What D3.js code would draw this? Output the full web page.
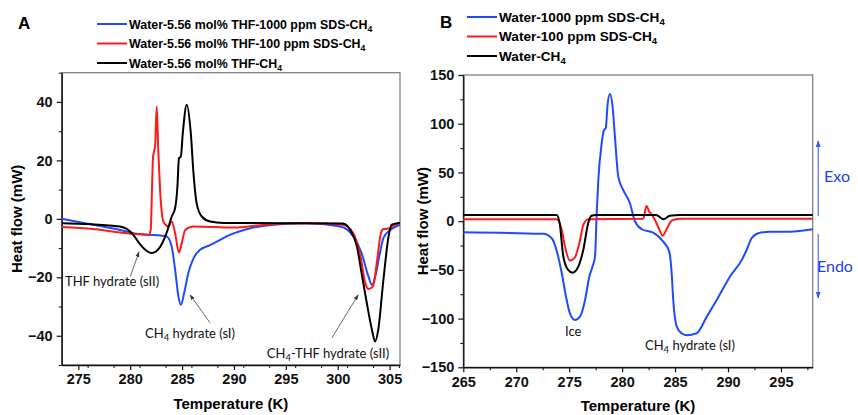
<!DOCTYPE html>
<html>
<head>
<meta charset="utf-8">
<script src="https://cdn.jsdelivr.net/npm/d3@7"></script>
<style>
  body { margin: 0; background: #fff; }
  .tick text { font-family: "Liberation Sans", Arial, sans-serif; font-weight: bold; font-size: 14.5px; fill: #111; }
  .note { font-family: Lato, "Open Sans", sans-serif; font-size: 13px; fill: #111; }
</style>
</head>
<body>
<svg id="chart" width="858" height="415"></svg>
<script>
// Panel A: Water-5.56 mol% THF systems  [T (K), heat flow (mW)]
const thfSds1000 = [[273.4,0],[276.4,-2],[279,-3.8],[280.6,-5.1],[282.9,-5.7],[283.5,-6],[284,-9.5],[284.33,-17.4],[284.65,-26.6],[284.88,-29.4],[285.2,-25.4],[285.6,-18.5],[286.1,-13.5],[286.74,-10.6],[287.7,-9],[288.35,-7.8],[289.6,-5.5],[291.6,-3.2],[293.8,-2],[297,-1.5],[300.24,-2.6],[301.5,-6],[302.3,-11.7],[302.96,-19.7],[303.3,-22.6],[303.6,-20],[304,-12.9],[304.4,-6.6],[305.06,-3.8],[306,-2]];
const thfSds100 = [[273.4,-2.8],[276.4,-3.5],[279.7,-4.9],[281.75,-5.5],[281.98,-3.8],[282.1,10],[282.2,21],[282.4,25],[282.56,38.4],[282.7,24],[282.88,10],[283.2,-0.9],[283.7,-2.6],[284,-0.9],[284.33,-4.9],[284.7,-11.5],[284.97,-8.3],[285.3,-3.8],[286.1,-2.6],[290,-3],[293,-2],[297,-1.5],[300.5,-2],[301.5,-4.9],[302.2,-12.9],[302.65,-22],[302.96,-24],[303.4,-23.1],[303.8,-14],[304.16,-4.9],[304.4,-3.5],[305.06,-3.2],[305.5,-2],[306,-1.5]];
const thfCH4 = [[273.4,-1.5],[276,-1.8],[279,-2.6],[279.7,-3.5],[280.3,-5.5],[281,-8.9],[281.6,-11],[282.1,-11.7],[282.6,-10.8],[282.9,-9.5],[283.5,-4.9],[284,0.8],[284.33,3.7],[284.55,11],[284.7,20.7],[284.88,21.3],[285.07,29.3],[285.45,39],[285.84,29.3],[286.1,15.6],[286.4,5.4],[286.9,0.8],[287.7,-0.9],[289,-1.4],[295,-1.5],[300.5,-1.6],[301.2,-3.8],[301.85,-9.5],[302.3,-18.6],[302.8,-28.8],[303.3,-38],[303.6,-42],[303.9,-38],[304.4,-20.9],[304.9,-6],[305.2,-2],[306,-1.3]];

// Panel B: Water systems
const waterSds1000 = [[265,-11.5],[272.55,-13],[273.35,-17.6],[273.8,-29.6],[274.3,-53.5],[274.7,-77.5],[275.07,-94.6],[275.55,-101.4],[276.02,-98],[276.5,-80.9],[276.9,-57],[277.2,-46.7],[277.44,-36.4],[277.6,8],[277.75,42],[278.07,80],[278.29,93.6],[278.45,95.4],[278.64,121],[278.85,130.6],[279.1,117.6],[279.32,86.8],[279.64,45.7],[280.1,32],[280.74,18.4],[281.2,0],[281.85,-8.3],[282.94,-11.8],[283.89,-21],[284.45,-31.3],[284.68,-53.5],[284.83,-81],[285.15,-108],[285.6,-115],[286.1,-117],[287.04,-115],[288,-98],[288.93,-81],[290.18,-57],[291.29,-40],[291.76,-29.6],[292.23,-17.6],[292.86,-12.4],[293.96,-10.8],[295.85,-10.8],[298,-8.3]];
const waterSds100 = [[265,2],[273.8,2],[274.3,-9],[274.6,-26],[275.07,-40.5],[275.5,-38],[275.96,-22.7],[276.33,-4],[276.8,2],[282,2.5],[282.3,15.6],[282.56,9.8],[282.94,4.6],[283.4,-5.6],[283.83,-15],[284.2,-8.3],[284.68,0.5],[285.46,2.5],[298,2.5]];
const waterCH4 = [[265,6.4],[273.8,6.4],[274.1,-2],[274.44,-36],[274.9,-50],[275.33,-52.9],[275.86,-46.7],[276.33,-29.6],[276.8,-2],[277.1,5.6],[277.5,6.4],[283.2,6.4],[283.9,2],[284.5,5.5],[285.5,6.4],[298,6.4]];

const legendA = ["Water-5.56 mol% THF-1000 ppm SDS-CH", "Water-5.56 mol% THF-100 ppm SDS-CH", "Water-5.56 mol% THF-CH"];
const legendB = ["Water-1000 ppm SDS-CH", "Water-100 ppm SDS-CH", "Water-CH"];
const ticksXA = [275, 280, 285, 290, 295, 300, 305];
const ticksYA = [-40, -20, 0, 20, 40];
const ticksXB = [265, 270, 275, 280, 285, 290, 295];
const ticksYB = [-150, -100, -50, 0, 50, 100, 150];

const colors = ["#1f4bff", "#ff1a1a", "#000000"];
const svg = d3.select("#chart");
const boldFont = '"Liberation Sans", Arial, sans-serif';

function panel(opt) {
    const x = d3.scaleLinear().domain(opt.xDomain).range([opt.left, opt.right]);
    const y = d3.scaleLinear().domain(opt.yDomain).range([opt.bottom, opt.top]);
    const g = svg.append("g");

    // frame (top/right grey)
    g.append("rect")
        .attr("x", opt.left).attr("y", opt.top)
        .attr("width", opt.right - opt.left).attr("height", opt.bottom - opt.top)
        .attr("fill", "none").attr("stroke", "#777").attr("stroke-width", 1.2);

    // minor ticks
    g.append("g").attr("transform", `translate(0,${opt.bottom})`)
        .call(d3.axisBottom(x).tickValues(d3.range(opt.xDomain[0], opt.xDomain[1], 2.5).filter(v => v % 5 !== 0 && v > opt.xDomain[0])).tickSize(3).tickFormat(""))
        .call(a => a.select(".domain").remove());
    g.append("g").attr("transform", `translate(${opt.left},0)`)
        .call(d3.axisLeft(y).tickValues(opt.yMinor).tickSize(3).tickFormat(""))
        .call(a => a.select(".domain").remove());

    const ax = g.append("g").attr("transform", `translate(0,${opt.bottom})`)
        .call(d3.axisBottom(x).tickValues(opt.xTicks).tickSize(5).tickPadding(4).tickSizeOuter(0));
    const ay = g.append("g").attr("transform", `translate(${opt.left},0)`)
        .call(d3.axisLeft(y).tickValues(opt.yTicks).tickSize(5).tickPadding(4).tickSizeOuter(0));
    [ax, ay].forEach(a => {
        a.select(".domain").attr("stroke", "#111").attr("stroke-width", 1.4);
        a.selectAll(".tick line").attr("stroke", "#111").attr("stroke-width", 1.2);
    });
    g.selectAll(".tick line").attr("stroke", "#111");

    const line = d3.line().x(d => x(d[0])).y(d => y(d[1])).curve(d3.curveMonotoneX);
    opt.series.forEach((s, i) => {
        g.append("path").datum(s)
            .attr("fill", "none")
            .attr("stroke", colors[i])
            .attr("stroke-width", 2)
            .attr("stroke-linejoin", "round")
            .attr("d", line);
    });

    // axis titles
    g.append("text")
        .attr("x", (opt.left + opt.right) / 2).attr("y", opt.bottom + 44)
        .attr("text-anchor", "middle")
        .style("font-family", boldFont).style("font-weight", "bold").style("font-size", "15px")
        .text("Temperature (K)");
    g.append("text")
        .attr("transform", `translate(${opt.yTitleX},${(opt.top + opt.bottom) / 2}) rotate(-90)`)
        .attr("text-anchor", "middle")
        .style("font-family", boldFont).style("font-weight", "bold").style("font-size", "15px")
        .text("Heat flow (mW)");

    // panel letter
    g.append("text").attr("x", opt.letter[0]).attr("y", opt.letter[1])
        .style("font-family", boldFont).style("font-weight", "bold").style("font-size", "17px")
        .text(opt.name);

    // legend
    opt.legend.forEach((lab, i) => {
        const ly = opt.legendY + i * 19.5;
        g.append("line")
            .attr("x1", opt.legendX).attr("x2", opt.legendX + 30)
            .attr("y1", ly).attr("y2", ly)
            .attr("stroke", colors[i]).attr("stroke-width", 2);
        const t = g.append("text").attr("x", opt.legendX + 32).attr("y", ly + 4.5)
            .style("font-family", boldFont).style("font-weight", "bold").style("font-size", opt.legendSize + "px");
        t.append("tspan").text(lab);
        t.append("tspan").attr("dy", 3).style("font-size", (opt.legendSize * 0.7) + "px").text("4");
    });

    return { g, x, y };
}

function note(g, px, py, parts, anchor) {
    const t = g.append("text").attr("class", "note").attr("x", px).attr("y", py)
        .attr("text-anchor", anchor || "start");
    parts.forEach(p => {
        if (p.sub) t.append("tspan").attr("dy", 3).style("font-size", "9.5px").text(p.sub);
        else t.append("tspan").attr("dy", p.up ? -3 : null).text(p.t);
    });
    return t;
}

svg.append("defs").append("marker")
    .attr("id", "head").attr("viewBox", "0 0 10 10").attr("refX", 9).attr("refY", 5)
    .attr("markerWidth", 7).attr("markerHeight", 7).attr("orient", "auto-start-reverse")
    .append("path").attr("d", "M0,1.5L10,5L0,8.5Z").attr("fill", "#333");
svg.select("defs").append("marker")
    .attr("id", "headBlue").attr("viewBox", "0 0 10 10").attr("refX", 9).attr("refY", 5)
    .attr("markerWidth", 7).attr("markerHeight", 7).attr("orient", "auto")
    .append("path").attr("d", "M0,1.5L10,5L0,8.5Z").attr("fill", "#2f55ff");

function arrow(g, x1, y1, x2, y2) {
    g.append("line").attr("x1", x1).attr("y1", y1).attr("x2", x2).attr("y2", y2)
        .attr("stroke", "#444").attr("stroke-width", 0.8).attr("marker-end", "url(#head)");
}

// ---- Panel A
const A = panel({
    name: "A", letter: [18, 29],
    xDomain: [273.4, 306], yDomain: [-50, 50],
    left: 61.7, right: 400, top: 72.7, bottom: 365,
    xTicks: ticksXA, yTicks: ticksYA, yMinor: [-50, -30, -10, 10, 30, 50],
    series: [thfSds1000, thfSds100, thfCH4],
    yTitleX: 22, legend: legendA, legendX: 97, legendY: 24, legendSize: 12.4
});
note(A.g, A.x(273.72), A.y(-22.9), [{ t: "THF hydrate (sII)" }]);
arrow(A.g, A.x(280.0), A.y(-19.8), A.x(280.85), A.y(-11.3));
note(A.g, A.x(281.43), A.y(-40.7), [{ t: "CH" }, { sub: "4" }, { t: " hydrate (sI)", up: true }]);
arrow(A.g, A.x(287.7), A.y(-35.6), A.x(285.77), A.y(-26));
note(A.g, A.x(293.17), A.y(-47.5), [{ t: "CH" }, { sub: "4" }, { t: "-THF hydrate (sII)", up: true }]);
arrow(A.g, A.x(299.44), A.y(-40.7), A.x(301.97), A.y(-26));

// ---- Panel B
const B = panel({
    name: "B", letter: [440, 28],
    xDomain: [265, 298], yDomain: [-150, 150],
    left: 463.3, right: 812.7, top: 75, bottom: 367.3,
    xTicks: ticksXB, yTicks: ticksYB, yMinor: d3.range(-125, 150, 50),
    series: [waterSds1000, waterSds100, waterCH4],
    yTitleX: 428, legend: legendB, legendX: 467, legendY: 17, legendSize: 13.6
});
note(B.g, B.x(275.39), B.y(-117.9), [{ t: "Ice" }], "middle");
note(B.g, B.x(282.16), B.y(-132.2), [{ t: "CH" }, { sub: "4" }, { t: " hydrate (sI)", up: true }]);

const ex = B.x(298.52);
B.g.append("line").attr("x1", ex).attr("x2", ex).attr("y1", B.y(5.3)).attr("y2", B.y(82.3))
    .attr("stroke", "#2f55ff").attr("stroke-width", 1).attr("marker-end", "url(#headBlue)");
B.g.append("line").attr("x1", ex).attr("x2", ex).attr("y1", B.y(-13.1)).attr("y2", B.y(-78.9))
    .attr("stroke", "#2f55ff").attr("stroke-width", 1).attr("marker-end", "url(#headBlue)");
note(B.g, B.x(300.3), B.y(40.2), [{ t: "Exo" }], "middle").style("fill", "#1f3ff0").style("font-size", "16px");
note(B.g, B.x(300.1), B.y(-52.2), [{ t: "Endo" }], "middle").style("fill", "#1f3ff0").style("font-size", "16px");
</script>
</body>
</html>
